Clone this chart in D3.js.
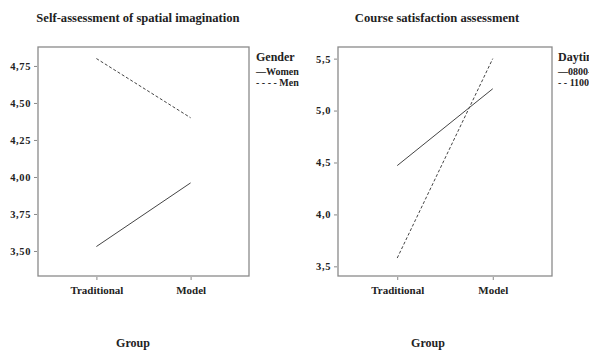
<!DOCTYPE html>
<html>
<head>
<meta charset="utf-8">
<script src="https://cdn.jsdelivr.net/npm/d3@7"></script>
<style>
  html, body { margin: 0; padding: 0; background: #fff; }
  svg { display: block; font-family: "Liberation Serif", "DejaVu Serif", serif; font-weight: bold; }
</style>
</head>
<body>
<svg id="chart" width="589" height="350"></svg>
<script>
// Interaction plots of group means (estimated marginal means)
const groups = ["Traditional", "Model"];

// Left panel: self-assessment of spatial imagination by gender
const genderSeries = ["Women", "Men"];
const spatialWomen = [3.53, 3.96];
const spatialMen = [4.80, 4.40];
const spatialTicks = [3.50, 3.75, 4.00, 4.25, 4.50, 4.75];

// Right panel: course satisfaction by daytime of the course
const daytimeSeries = ["0800-1100", "1100-1400"];
const satisfactionEarly = [4.47, 5.21];
const satisfactionLate = [3.58, 5.50];
const satisfactionTicks = [3.5, 4.0, 4.5, 5.0, 5.5];

const svg = d3.select("#chart");
const ink = "#222";
const lineInk = "#444";
const serif = "'Liberation Serif', 'DejaVu Serif', serif";

function panel(cfg) {
  const g = svg.append("g");
  const x = d3.scalePoint().domain(groups).range([cfg.left, cfg.right]).padding(0.62);
  const y = d3.scaleLinear().domain(cfg.domain).range([cfg.bottom, cfg.top]);

  // plot frame
  g.append("rect")
    .attr("x", cfg.left).attr("y", cfg.top)
    .attr("width", cfg.right - cfg.left).attr("height", cfg.bottom - cfg.top)
    .attr("fill", "none").attr("stroke", "#8a8a8a").attr("stroke-width", 1.3);

  // y axis
  const ya = g.append("g")
    .attr("transform", `translate(${cfg.left - 1},0)`)
    .call(d3.axisLeft(y).tickValues(cfg.ticks).tickSize(3).tickPadding(3)
      .tickFormat(d => d3.format(cfg.fmt)(d).replace(".", ",")));
  ya.attr("font-family", serif).attr("font-size", null);
  ya.select(".domain").remove();
  ya.selectAll(".tick line").attr("stroke", "#888");
  ya.selectAll(".tick text").attr("fill", ink).style("font-size", "10.5px")
    .style("font-weight", "bold").attr("letter-spacing", "0.6px");

  // x axis
  const xa = g.append("g")
    .attr("transform", `translate(0,${cfg.bottom + 1})`)
    .call(d3.axisBottom(x).tickSize(3).tickPadding(6));
  xa.attr("font-family", serif).attr("font-size", null);
  xa.select(".domain").remove();
  xa.selectAll(".tick line").attr("stroke", "#888");
  xa.selectAll(".tick text").attr("fill", ink).style("font-size", "11px")
    .style("font-weight", "bold");

  // series lines
  const line = d3.line().x((d, i) => x(groups[i])).y(d => y(d));
  cfg.series.forEach(s => {
    g.append("path").datum(s.values)
      .attr("d", line)
      .attr("fill", "none")
      .attr("stroke", lineInk)
      .attr("stroke-width", 1)
      .attr("stroke-dasharray", s.dash || null);
  });

  // title
  g.append("text")
    .attr("x", cfg.titleX).attr("y", 22)
    .attr("text-anchor", "middle").attr("fill", ink)
    .style("font-size", "12.6px")
    .text(cfg.title);

  // x axis title
  g.append("text")
    .attr("x", cfg.groupX).attr("y", 347)
    .attr("text-anchor", "middle").attr("fill", ink)
    .style("font-size", "12px")
    .text("Group");

  // legend
  const lg = g.append("g").attr("transform", `translate(${cfg.legendX},0)`);
  lg.append("text").attr("x", 0).attr("y", 61).attr("fill", ink)
    .style("font-size", "12px").text(cfg.legendTitle);
  cfg.series.forEach((s, i) => {
    lg.append("text").attr("x", 0).attr("y", 75 + i * 11).attr("fill", ink)
      .style("font-size", "10px")
      .text(s.prefix + s.name);
  });
}

panel({
  left: 38, right: 249, top: 47, bottom: 276,
  domain: [3.331, 4.878], ticks: spatialTicks, fmt: ".2f",
  title: "Self-assessment of spatial imagination", titleX: 138, groupX: 133,
  legendTitle: "Gender", legendX: 256,
  series: [
    { name: genderSeries[0], values: spatialWomen, prefix: "\u2014" },
    { name: genderSeries[1], values: spatialMen, dash: "3,2", prefix: "- - - - " }
  ]
});

panel({
  left: 338, right: 552, top: 47, bottom: 276,
  domain: [3.407, 5.612], ticks: satisfactionTicks, fmt: ".1f",
  title: "Course satisfaction assessment", titleX: 437, groupX: 428,
  legendTitle: "Daytime", legendX: 558,
  series: [
    { name: daytimeSeries[0], values: satisfactionEarly, prefix: "\u2014" },
    { name: daytimeSeries[1], values: satisfactionLate, dash: "3,2", prefix: "- - " }
  ]
});
</script>
</body>
</html>
